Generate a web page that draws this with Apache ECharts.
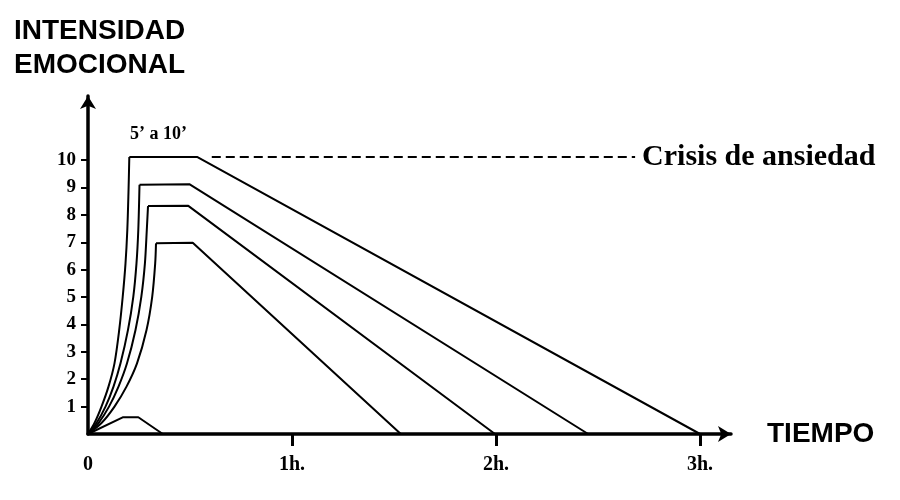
<!DOCTYPE html>
<html>
<head>
<meta charset="utf-8">
<script src="https://cdn.jsdelivr.net/npm/echarts@6/dist/echarts.min.js"></script>
<style>
html,body{margin:0;padding:0;background:#fff;}
#chart{width:900px;height:500px;}
</style>
</head>
<body>
<div id="chart"></div>
<script>
// x in minutes, y = intensidad emocional
const xTickValues = [0, 60, 120, 180];
const xTickLabels = ['0', '1h.', '2h.', '3h.'];
const yTickValues = [1, 2, 3, 4, 5, 6, 7, 8, 9, 10];

const riseA = [[0,0],[1.91,0.40],[3.97,1.0],[6.03,1.73],[7.79,2.58],[9.18,3.80],[10.21,5.01],[11.03,6.23],[11.56,7.45],[11.9,8.8],[12.15,10.11]];
const riseB = [[0,0],[2.5,0.40],[5.15,1.0],[7.5,1.73],[9.56,2.58],[11.76,3.80],[13.32,5.01],[14.26,6.23],[14.79,7.45],[15.15,9.10]];
const riseC = [[0,0],[3.09,0.40],[6.18,1.0],[8.97,1.73],[11.47,2.58],[13.97,3.80],[15.68,5.01],[16.74,6.23],[17.29,7.45],[17.65,8.32]];
const riseD = [[0,0],[3.97,0.40],[7.79,1.0],[11.32,1.73],[14.41,2.58],[17.21,3.80],[18.88,5.01],[19.76,6.23],[20.0,6.96]];

const fallA = [[12.15,10.11],[32.2,10.11],[180,0]];
const fallB = [[15.15,9.10],[29.8,9.12],[147.1,0]];
const fallC = [[17.65,8.32],[29.5,8.33],[119.7,0]];
const fallD = [[20.0,6.96],[30.8,6.98],[92.0,0]];
const minor = [[0,0],[10.2,0.61],[14.8,0.61],[22.0,0]];

const crisisLine = [[36.4,10.11],[160.9,10.11]];
const crisisText = 'Crisis de ansiedad';
const durationText = '5\u2019 a 10\u2019';

const serif = '"Liberation Serif", "Times New Roman", serif';
const sans = '"Liberation Sans", Arial, sans-serif';

function lineSeries(data, smooth) {
  return {
    type: 'line', data: data, symbol: 'none', smooth: smooth ? 0.3 : false,
    lineStyle: {color: '#000', width: 2}, silent: true
  };
}

const series = [
  lineSeries(riseA, true), lineSeries(riseB, true), lineSeries(riseC, true), lineSeries(riseD, true),
  lineSeries(fallA, false), lineSeries(fallB, false), lineSeries(fallC, false), lineSeries(fallD, false),
  lineSeries(minor, false),
  {
    type: 'line', data: crisisLine, symbol: 'none', silent: true,
    lineStyle: {color: '#000', width: 2, type: [9, 5]},
    endLabel: {
      show: true, formatter: crisisText, distance: 7,
      fontFamily: serif, fontWeight: 'bold', fontSize: 30, color: '#000'
    }
  }
];

const chart = echarts.init(document.getElementById('chart'), null, {renderer: 'canvas'});
chart.setOption({
  animation: false,
  backgroundColor: '#fff',
  title: [
    {text: 'INTENSIDAD\nEMOCIONAL', left: 9, top: 9,
     textStyle: {fontFamily: sans, fontWeight: 'bold', fontSize: 28, lineHeight: 34, color: '#000'}},
    {text: durationText, left: 125, top: 120,
     textStyle: {fontFamily: serif, fontWeight: 'bold', fontSize: 18, color: '#000'}}
  ],
  grid: {left: 88, right: 169, top: 96, bottom: 66, containLabel: false},
  xAxis: {
    type: 'value', min: 0, max: 189.1,
    name: 'TIEMPO', nameLocation: 'end', nameGap: 36,
    nameTextStyle: {fontFamily: sans, fontWeight: 'bold', fontSize: 28, color: '#000', verticalAlign: 'middle'},
    axisLine: {show: true, symbol: ['none', 'arrow'], symbolSize: [12, 13], lineStyle: {color: '#000', width: 3.5}},
    axisTick: {show: true, customValues: [60, 120, 180], length: 12, lineStyle: {color: '#000', width: 3}},
    axisLabel: {
      customValues: xTickValues, margin: 21,
      formatter: function (v) { const i = xTickValues.indexOf(v); return i >= 0 ? xTickLabels[i] : ''; },
      fontFamily: serif, fontWeight: 'bold', fontSize: 20, color: '#000'
    },
    splitLine: {show: false}
  },
  yAxis: {
    type: 'value', min: 0, max: 12.34,
    axisLine: {show: true, symbol: ['none', 'arrow'], symbolSize: [12, 13], lineStyle: {color: '#000', width: 3.5}},
    axisTick: {show: true, customValues: yTickValues, length: 7, lineStyle: {color: '#000', width: 2}},
    axisLabel: {
      customValues: yTickValues, margin: 12,
      fontFamily: serif, fontWeight: 'bold', fontSize: 19, color: '#000'
    },
    splitLine: {show: false}
  },
  series: series
});
</script>
</body>
</html>
